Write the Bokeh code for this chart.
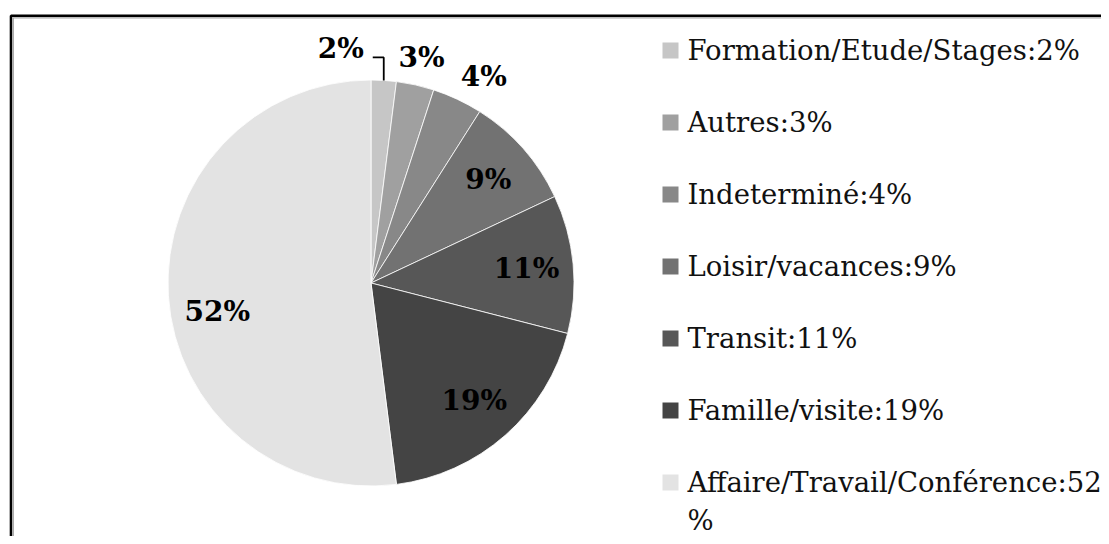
import math
from bokeh.plotting import figure
from bokeh.models import Range1d, ColumnDataSource
from bokeh.core.properties import value
from bokeh.embed import file_html
from bokeh.resources import INLINE

# ---- data ----
categories = ["Formation/Etude/Stages", "Autres", "Indeterminé", "Loisir/vacances",
              "Transit", "Famille/visite", "Affaire/Travail/Conférence"]
percents = [2, 3, 4, 9, 11, 19, 52]
colors = ["#c6c6c6", "#a0a0a0", "#888888", "#727272", "#575757", "#444444", "#e3e3e3"]

# ---- layout (pixel-like data space) ----
W, H = 1101, 536
p = figure(width=W, height=H, output_backend="svg", toolbar_location=None,
           x_range=Range1d(0, W), y_range=Range1d(0, H),
           min_border=0, background_fill_color="white", border_fill_color="white")
p.axis.visible = False
p.grid.visible = False
p.outline_line_color = None

def sy(y):  # screen y -> data y
    return H - y

# frame (black outer line with grey inner shadow, open to the right/bottom)
p.line(x=[10.5, 10.5, W + 20], y=[-20, sy(15.2), sy(15.2)], line_color="black", line_width=2.6)
p.line(x=[12.8, 12.8, W + 20], y=[-20, sy(17.4), sy(17.4)], line_color="#a8a8a8", line_width=1.3)

cx, cy, R = 370.5, sy(282.5), 203.0
total = sum(percents)
cum = 0
starts, ends, mids = [], [], []
for v in percents:
    c0 = cum / total
    cum += v
    c1 = cum / total
    starts.append(math.pi / 2 - 2 * math.pi * c1)
    ends.append(math.pi / 2 - 2 * math.pi * c0)
    mids.append(2 * math.pi * (c0 + c1) / 2)  # clockwise from top

src = ColumnDataSource(dict(start=starts, end=ends, color=colors))
p.wedge(x=cx, y=cy, radius=R, start_angle="start", end_angle="end",
        fill_color="color", line_color="white", line_width=0.8, source=src)

# ---- data labels ----
label_font = value("DejaVu Serif")
LFS = "28px"
angle_shift = {2: math.radians(3.4), 6: math.radians(-7)}
out_r = {1: 1.14, 2: 1.16}
for i, v in enumerate(percents):
    a = mids[i] + angle_shift.get(i, 0)
    txt = f"{v}%"
    if v >= 5:
        r = 0.77 * R
        x = cx + r * math.sin(a)
        y = cy + r * math.cos(a)
        p.text(x=[x], y=[y], text=[txt], text_font=label_font, text_font_size=LFS,
               text_font_style="bold", text_align="center", text_baseline="middle",
               text_color="black")
    elif i == 0:
        ex = cx + R * math.sin(a)
        ey = cy + R * math.cos(a)
        p.line(x=[ex, ex, ex - 11], y=[ey, ey + 23, ey + 23], line_color="black", line_width=1.8)
        p.text(x=[ex - 20], y=[ey + 32], text=[txt], text_font=label_font, text_font_size=LFS,
               text_font_style="bold", text_align="right", text_baseline="middle",
               text_color="black")
    else:
        r = out_r.get(i, 1.14) * R
        x = cx + r * math.sin(a)
        y = cy + r * math.cos(a)
        p.text(x=[x], y=[y], text=[txt], text_font=label_font, text_font_size=LFS,
               text_font_style="bold", text_align="center", text_baseline="middle",
               text_color="black")

# ---- legend ----
for i, (c, v) in enumerate(zip(categories, percents)):
    yy = sy(50 + 72 * i)
    p.rect(x=[670], y=[yy], width=16, height=16, fill_color=colors[i], line_color=None)
    label = f"{c}:{v}%"
    lines = [label[:29], label[29:]] if len(label) > 29 else [label]
    for k, ln in enumerate(lines):
        p.text(x=[687], y=[yy + 1 - 38 * k], text=[ln], text_font=value("DejaVu Serif"),
               text_font_size="27.5px", text_align="left", text_baseline="middle",
               text_color="#111111")

open("out.html", "w").write(file_html(p, INLINE))
